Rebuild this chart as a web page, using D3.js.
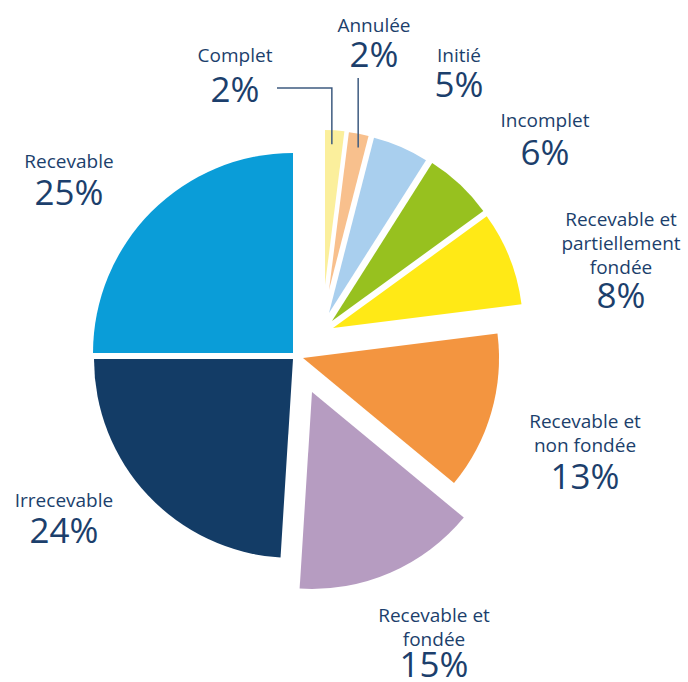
<!DOCTYPE html>
<html lang="fr">

<head>
  <meta charset="utf-8">
  <title>Répartition des dossiers</title>
  <script type="text/javascript" src="https://cdn.jsdelivr.net/npm/d3@7/dist/d3.min.js"></script>
  <style>
    body { margin: 0; background: #fff; }
    text { font-family: "Open Sans", sans-serif; fill: #1c3f6c; }
  </style>
</head>

<body>
  <svg class="chart"></svg>
  <script type="text/javascript">
    // data, clockwise from 12 o'clock
    var categories = ["Complet", "Annulée", "Initié", "Incomplet",
      "Recevable et|partiellement|fondée", "Recevable et|non fondée",
      "Recevable et|fondée", "Irrecevable", "Recevable"];
    var shares = [2, 2, 5, 6, 8, 13, 15, 24, 25];
    var percentLabels = ["2%", "2%", "5%", "6%", "8%", "13%", "15%", "24%", "25%"];

    // styles / layout
    var colours = ["#fbef9c", "#f8c08d", "#a9cfee", "#97c11f", "#ffe916",
      "#f39540", "#b69cc1", "#133c66", "#0a9dd8"];
    var sliceRadius = [155, 159, 181, 187, 190, 196, 197, 199, 200];
    var sliceShift = [[32, -71], [36, -66], [36, -43], [39, -35], [40, -28],
      [10, 2], [19, 36], [0, 3], [0, -3]];
    // label centre x, first line baseline, percent baseline
    var labelPos = [[235, 62, 102], [374, 32, 67], [459, 62, 97], [545, 127, 165],
      [621, 226, 308], [585, 428, 489], [434, 622, 677], [64, 507, 543], [69, 168, 205]];

    var w = 688;
    var h = 682;
    var cx = 293;
    var cy = 356;
    var lineGap = 24;

    var svg = d3.select("svg")
      .attr("width", w)
      .attr("height", h);

    var pie = d3.pie()
      .sort(null)
      .value(function(d) { return d; });

    var arcs = pie(shares);

    var arc = d3.arc()
      .innerRadius(0)
      .outerRadius(function(d) { return sliceRadius[d.index]; });

    var g = svg.append("g")
      .attr("transform", "translate(" + cx + "," + cy + ")");

    // slices
    g.selectAll("path")
      .data(arcs)
      .enter()
      .append("path")
      .attr("transform", function(d) {
        var s = sliceShift[d.index];
        return "translate(" + s[0] + "," + s[1] + ")";
      })
      .attr("d", arc)
      .attr("fill", function(d) { return colours[d.index]; });

    // leader lines for the two thin slices at the top
    function innerPoint(d) {
      var r = sliceRadius[d.index] - 14;
      var p = d3.arc().innerRadius(r).outerRadius(r).centroid(d);
      var s = sliceShift[d.index];
      return [cx + s[0] + p[0], cy + s[1] + p[1]];
    }
    var pComplet = innerPoint(arcs[0]);
    var pAnnulee = innerPoint(arcs[1]);
    var leader = d3.line();
    svg.append("path")
      .attr("d", leader([[labelPos[0][0] + 42, 88], [pComplet[0] - 2, 88], [pComplet[0] - 2, pComplet[1]]]))
      .attr("fill", "none")
      .attr("stroke", "#3e5b80")
      .attr("stroke-width", 1.5);
    svg.append("path")
      .attr("d", leader([[pAnnulee[0] + 2, labelPos[1][2] + 11], [pAnnulee[0] + 2, pAnnulee[1]]]))
      .attr("fill", "none")
      .attr("stroke", "#3e5b80")
      .attr("stroke-width", 1.5);

    // labels
    var labels = svg.selectAll("g.label")
      .data(categories)
      .enter()
      .append("g")
      .attr("class", "label");

    labels.each(function(name, i) {
      var sel = d3.select(this);
      var lines = name.split("|");
      var t = sel.append("text")
        .attr("text-anchor", "middle")
        .attr("font-size", 19);
      lines.forEach(function(line, k) {
        t.append("tspan")
          .attr("x", labelPos[i][0])
          .attr("y", labelPos[i][1] + k * lineGap)
          .text(line);
      });
      sel.append("text")
        .attr("text-anchor", "middle")
        .attr("font-size", 35)
        .attr("x", labelPos[i][0])
        .attr("y", labelPos[i][2])
        .text(percentLabels[i]);
    });
  </script>
</body>

</html>
